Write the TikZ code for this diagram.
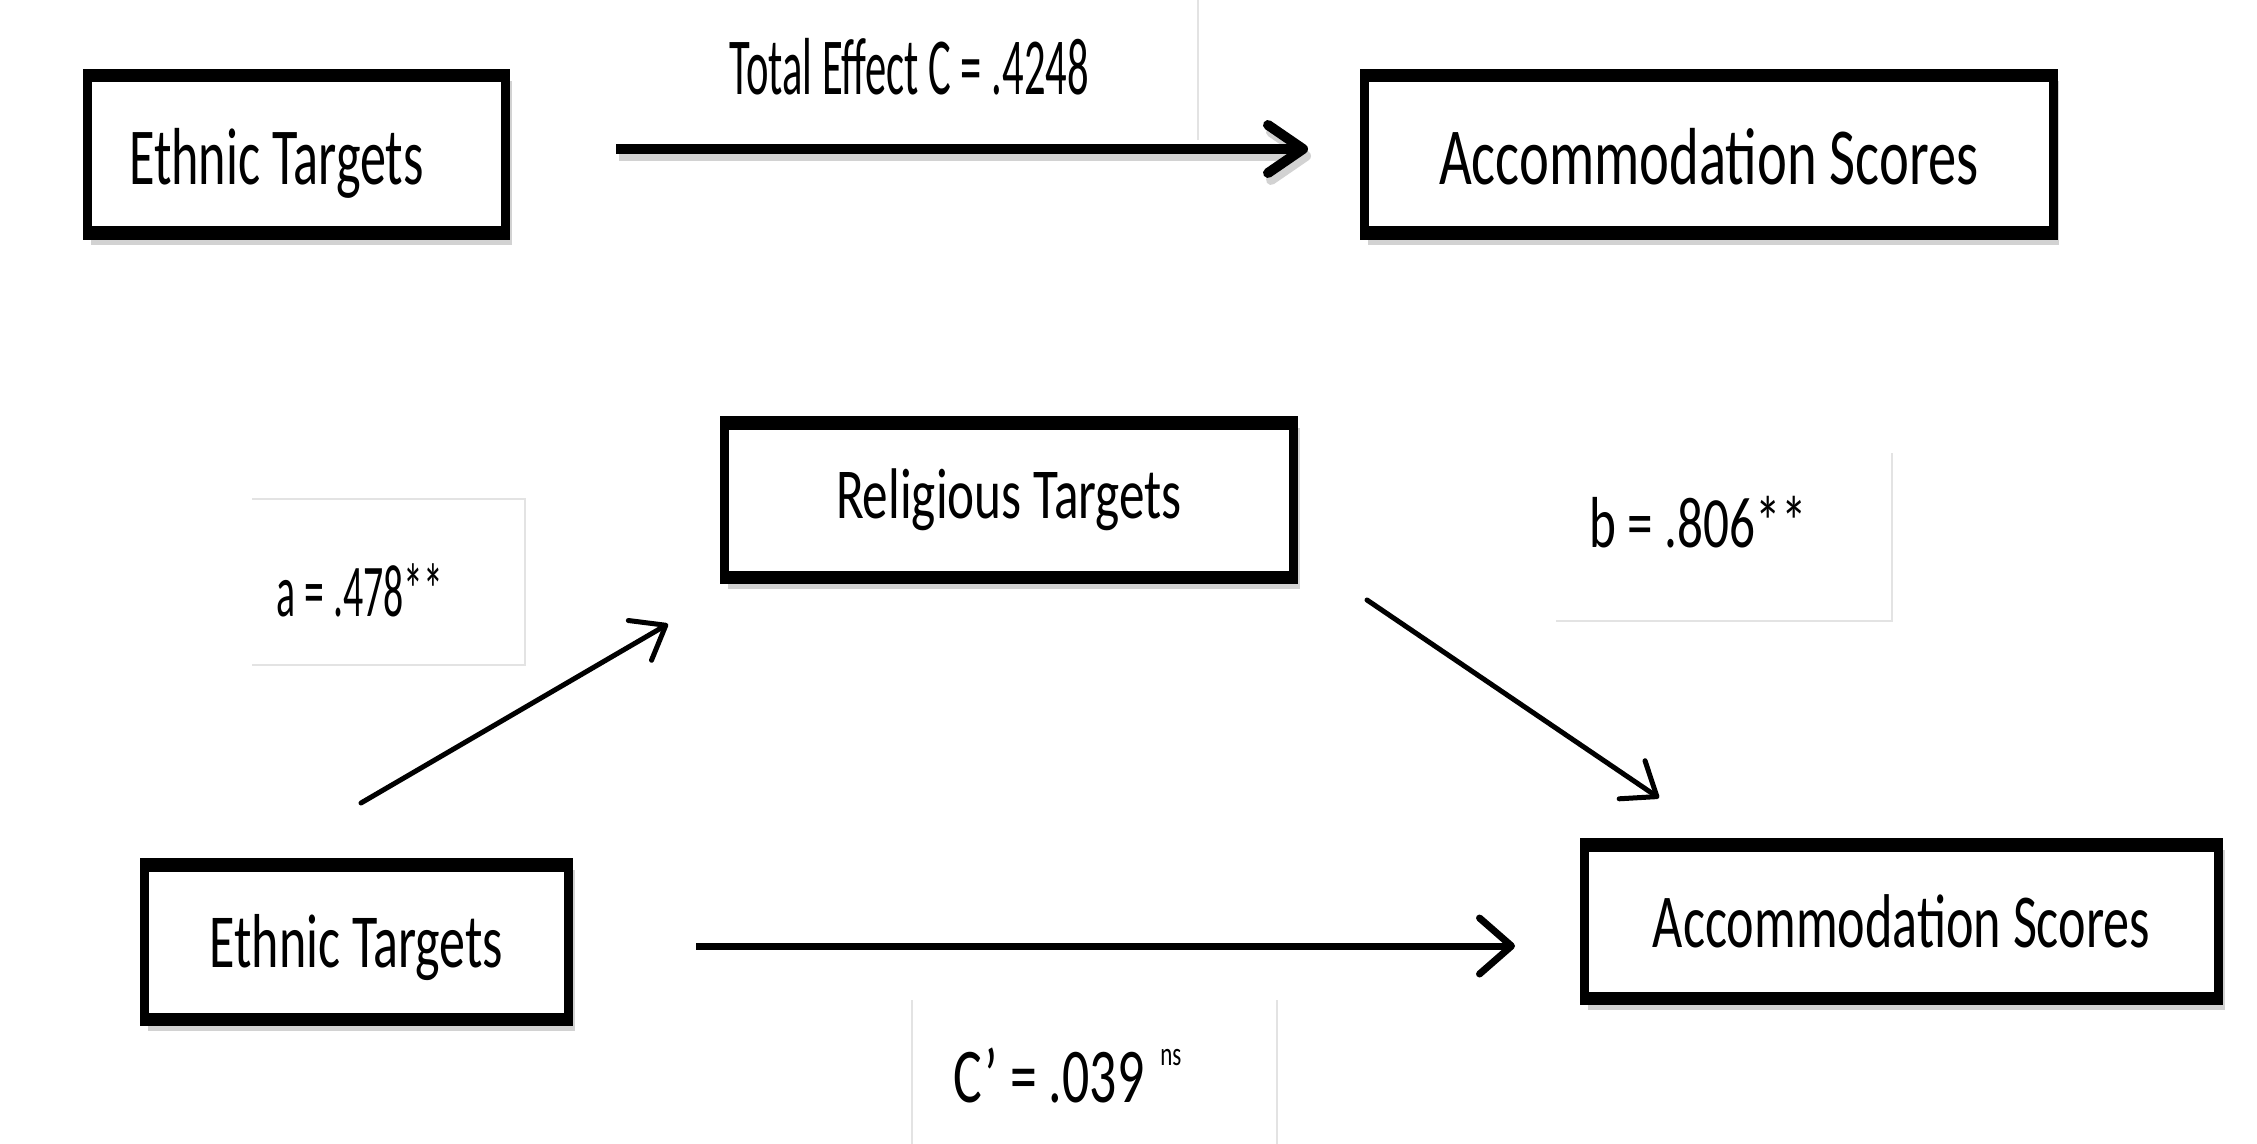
\documentclass[tikz,border=0pt]{standalone}
\usepackage{fontspec}
\setmainfont{Carlito}
\usepackage{graphicx}
\usetikzlibrary{arrows.meta,backgrounds}
\newcommand\vtext[3]{{\fontsize{#1}{#1}\selectfont\scalebox{1}[#2]{#3}}}
\begin{document}
\begin{tikzpicture}[x=0.5pt,y=-0.5pt,
  box/.style={draw, fill=white, line width=4.5pt, inner sep=0pt, outer sep=0pt, text depth=0pt},
  edgebar/.style={line width=6.75pt},
  faint/.style={draw=gray!22, line width=1.25pt},
  lbl/.style={inner sep=0pt, anchor=base},
  bigarrow/.style={line width=5pt, -{Straight Barb[length=17.5pt,width=24pt,round]}},
  midarrow/.style={line width=3.5pt, -{Straight Barb[length=16pt,width=28pt,round]}},
  thinarrow/.style={line width=2.5pt, line cap=round, -{Straight Barb[length=15pt,width=23pt,round]}},
]
\path[use as bounding box] (0,0) rectangle (2257,1144);

% faint text-box borders
\draw[faint] (1198,0) -- (1198,140);
\draw[faint] (252,499) -- (525,499) -- (525,665) -- (252,665);
\draw[faint] (1892,453) -- (1892,621) -- (1556,621);
\draw[faint] (912,1000) -- (912,1144);
\draw[faint] (1277,1000) -- (1277,1144);

% boxes
\node[box, minimum width=209pt, minimum height=78.75pt, text height=30.5pt] (E1) at (296.5,154.5)
  {\hspace*{-20pt}\vtext{26.1pt}{1.55}{Ethnic Targets}};
\node[box, minimum width=344.25pt, minimum height=78.75pt, text height=30.5pt] (A1) at (1708.75,154.5)
  {\vtext{28.3pt}{1.43}{Accommodation Scores}};
\node[box, minimum width=284.5pt, minimum height=77.25pt, text height=18pt] (R) at (1009,500)
  {\vtext{25.6pt}{1.4}{Religious Targets}};
\node[box, minimum width=212pt, minimum height=77.25pt, text height=25pt] (E2) at (356.5,942)
  {\vtext{26pt}{1.47}{Ethnic Targets}};
\node[box, minimum width=317pt, minimum height=76.75pt, text height=25.5pt] (A2) at (1901.5,921.5)
  {\vtext{26.1pt}{1.46}{Accommodation Scores}};

\foreach \n in {E1,A1,R,E2,A2}{
  \draw[edgebar] ([xshift=-2.25pt]\n.north west) -- ([xshift=2.25pt]\n.north east);
  \draw[edgebar] ([xshift=-2.25pt]\n.south west) -- ([xshift=2.25pt]\n.south east);
}
\begin{scope}[on background layer]
  \foreach \n in {E1,A1,R,E2,A2}{
    \fill[gray!35] ([shift={(3,5)}]\n.north west) rectangle ([shift={(6,12)}]\n.south east);
  }
\end{scope}

% connector end points
\coordinate (t0) at (616,149);
\coordinate (t1) at (1308,149);
\coordinate (a0) at (361,803);
\coordinate (a1) at (668,624);
\coordinate (b0) at (1367,600);
\coordinate (b1) at (1659,798);
\coordinate (c0) at (696,946);
\coordinate (c1) at (1515,946);

% connectors
\draw[bigarrow, gray!35] ([shift={(3,7)}]t0) -- ([shift={(3,7)}]t1);
\draw[bigarrow] (t0) -- (t1);
\draw[thinarrow] (a0) -- (a1);
\draw[thinarrow] (b0) -- (b1);
\draw[midarrow] (c0) -- (c1);

% labels
\node[lbl] (lt) at (909,95) {\vtext{21.3pt}{1.9}{Total Effect C = .4248}};
\node[lbl] (la) at (360,616) {\vtext{19.9pt}{1.87}{a = .478**}};
\node[lbl] (lb) at (1698,547) {\vtext{25.6pt}{1.41}{b = .806**}};
\node[lbl, anchor=base west] (lc) at (953,1102)
  {\vtext{26.9pt}{1.44}{C’ = .039}\hspace{8pt}\raisebox{18.5pt}{\vtext{11.5pt}{1.45}{ns}}};
\end{tikzpicture}
\end{document}
